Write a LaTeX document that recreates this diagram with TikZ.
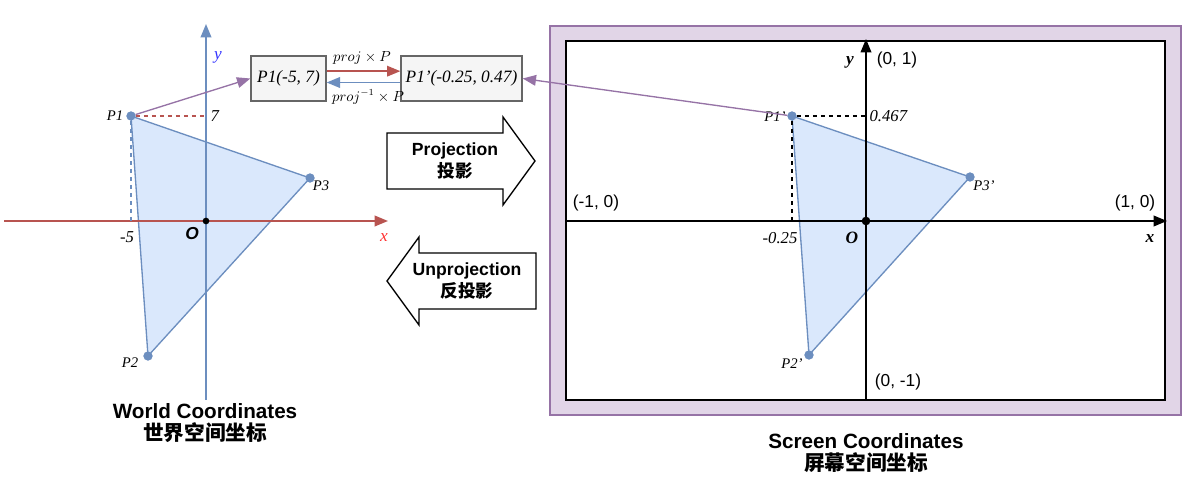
\documentclass[tikz,border=0pt]{standalone}
\usepackage{fontspec}
\setmainfont{Liberation Serif}
\setsansfont{Liberation Sans}
\newfontfamily\cjkfont{Noto Sans CJK SC}
\usetikzlibrary{arrows.meta}

\definecolor{triblue}{HTML}{DAE8FC}
\definecolor{lineblue}{HTML}{6C8EBF}
\definecolor{linered}{HTML}{B85450}
\definecolor{linepurple}{HTML}{9673A6}
\definecolor{fillpurple}{HTML}{E1D5E7}
\definecolor{boxgray}{HTML}{F5F5F5}
\definecolor{linegray}{HTML}{666666}
\definecolor{labelblue}{HTML}{3333FF}
\definecolor{labelred}{HTML}{FF3333}

\begin{document}
\begin{tikzpicture}[x=0.75pt, y=-0.75pt,
  vertex/.style={circle, fill=lineblue, inner sep=0pt, minimum size=6.8pt},
  origin/.style={circle, fill=black, inner sep=0pt, minimum size=5pt},
  tri/.style={draw=lineblue, fill=triblue, line width=1pt},
  coordbox/.style={draw=linegray, fill=boxgray, line width=1pt, minimum height=33.75pt,
    inner sep=0pt, font=\fontsize{13}{15}\selectfont\itshape},
  lbl/.style={inner sep=1pt, font=\fontsize{11}{12}\selectfont\itshape},
  numlbl/.style={inner sep=1pt, font=\fontsize{12.5}{14}\selectfont\itshape},
  sclbl/.style={inner sep=1pt, font=\sffamily\fontsize{13}{15}\selectfont},
  title/.style={align=center, font=\sffamily\bfseries\fontsize{15.5}{16.5}\selectfont},
  bigarrow/.style={draw=black, fill=white, line width=1pt, line join=miter},
  conn/.style={line width=1.1pt, -{Triangle[length=10pt, width=8pt]}}]

\useasboundingbox (0,0) rectangle (1197,495);

%World space
\node[vertex] (p1) at (131,116) {};
\node[vertex] (p2) at (148,356) {};
\node[vertex] (p3) at (310,178) {};
\draw[tri] (p1.center) -- (p2.center) -- (p3.center) -- cycle;

\coordinate (xl) at (4,221);
\coordinate (xr) at (388,221);
\coordinate (yb) at (206,400);
\coordinate (yt) at (206,24);
\draw[conn, draw=linered, fill=linered] (xl) -- (xr);
\draw[conn, draw=lineblue, fill=lineblue] (yb) -- (yt);
\node[lbl, text=labelblue, font=\fontsize{13}{14}\selectfont\itshape] (ylab) at (218,57) {y};
\node[lbl, text=labelred, font=\fontsize{13}{14}\selectfont\itshape] (xlab) at (384,238) {x};

\node[vertex] at (p1) {};
\node[vertex] at (p2) {};
\node[vertex] at (p3) {};
\node[origin] (o1) at (206,221) {};

\draw[dashed, draw=linered, line width=1pt] (p1) -- (p1 -| o1);
\draw[dashed, draw=lineblue, line width=1pt] (p1) -- (p1 |- o1);

\node[lbl] (p1lab) at (115,116) {P1};
\node[lbl] (p2lab) at (130,363) {P2};
\node[lbl] (p3lab) at (321,186) {P3};
\node[numlbl, anchor=west] (sev) at (209,116) {7};
\node[numlbl] (fiv) at (127,237) {-5};
\node[inner sep=1pt, font=\sffamily\bfseries\itshape\fontsize{13}{14}\selectfont] (o1lab) at (192,234) {O};

\node[title] (world) at (205,423) {World Coordinates\\{\cjkfont\bfseries 世界空间坐标}};

%Points in the boxes
\node[coordbox, minimum width=56.25pt] (box1) at (288.5,78.5) {P1(-5, 7)};
\node[coordbox, minimum width=90.75pt] (box2) at (461.5,78.5) {P1'(-0.25, 0.47)};
\draw[conn, draw=linered, fill=linered] ([yshift=5.5pt]box1.east) -- ([yshift=5.5pt]box2.west);
\draw[conn, draw=lineblue, fill=lineblue] ([yshift=-3pt]box2.west) -- ([yshift=-3pt]box1.east);
\node[inner sep=0pt, font=\fontsize{10.5}{12}\selectfont] (projlab) at (362,58) {$proj\times P$};
\node[inner sep=0pt, font=\fontsize{10.5}{12}\selectfont] (unprojlab) at (368,97) {$proj^{-1}\times P$};

%Projection arrows
\draw[bigarrow] (387,133) -- (503,133) -- (503,117) -- (535,161) -- (503,205) -- (503,189) -- (387,189) -- cycle;
\node[align=center, font=\sffamily\bfseries\fontsize{13.2}{16.5}\selectfont] (proj) at (455,161) {Projection\\{\cjkfont\bfseries 投影}};
\draw[bigarrow] (536,253) -- (419,253) -- (419,237) -- (387,281) -- (419,325) -- (419,309) -- (536,309) -- cycle;
\node[align=center, font=\sffamily\bfseries\fontsize{13.2}{16.5}\selectfont] (unproj) at (467,281) {Unprojection\\{\cjkfont\bfseries 反投影}};

%Screen space
\draw[draw=linepurple, fill=fillpurple, line width=1.1pt] (550,26) rectangle (1181,415);
\draw[draw=black, fill=white, line width=1.4pt] (566,41) rectangle (1165,400);

\node[vertex] (s1) at (792,116) {};
\node[vertex] (s2) at (809,355) {};
\node[vertex] (s3) at (970,177) {};
\draw[tri] (s1.center) -- (s2.center) -- (s3.center) -- cycle;

\coordinate (sxl) at (566,221);
\coordinate (sxr) at (1167,221);
\coordinate (syb) at (866,400);
\coordinate (syt) at (866,39);
\draw[conn, draw=black, fill=black] (sxl) -- (sxr);
\draw[conn, draw=black, fill=black] (syb) -- (syt);

\node[vertex] at (s1) {};
\node[vertex] at (s2) {};
\node[vertex] at (s3) {};
\node[origin, minimum size=6.5pt] (o2) at (866,221) {};

\draw[dashed, line width=1.1pt] (s1) -- (s1 -| o2);
\draw[dashed, line width=1.1pt] (s1) -- (s1 |- o2);

\node[lbl] (s1lab) at (775,117) {P1'};
\node[lbl] (s2lab) at (792,364) {P2'};
\node[lbl] (s3lab) at (984,186) {P3'};
\node[numlbl, anchor=west] (yval) at (868,116) {0.467};
\node[numlbl] (xval) at (780,238) {-0.25};
\node[inner sep=1pt, font=\bfseries\itshape\fontsize{13}{14}\selectfont] (o2lab) at (852,238) {O};
\node[inner sep=1pt, font=\bfseries\itshape\fontsize{13}{14}\selectfont] (sxlab) at (1150,239) {x};
\node[inner sep=1pt, font=\bfseries\itshape\fontsize{13}{14}\selectfont] (sylab) at (850,62) {y};
\node[sclbl] (left) at (596,203) {(-1, 0)};
\node[sclbl] (right) at (1135,203) {(1, 0)};
\node[sclbl] (top) at (897,60) {(0, 1)};
\node[sclbl] (bottom) at (898,382) {(0, -1)};

\node[title] (screen) at (866,453) {Screen Coordinates\\{\cjkfont\bfseries 屏幕空间坐标}};

%Links to the boxes
\draw[conn, draw=linepurple, fill=linepurple, line width=1pt] (p1) -- (box1.west);
\draw[conn, draw=linepurple, fill=linepurple, line width=1pt] (s1) -- (box2.east);

\end{tikzpicture}
\end{document}
